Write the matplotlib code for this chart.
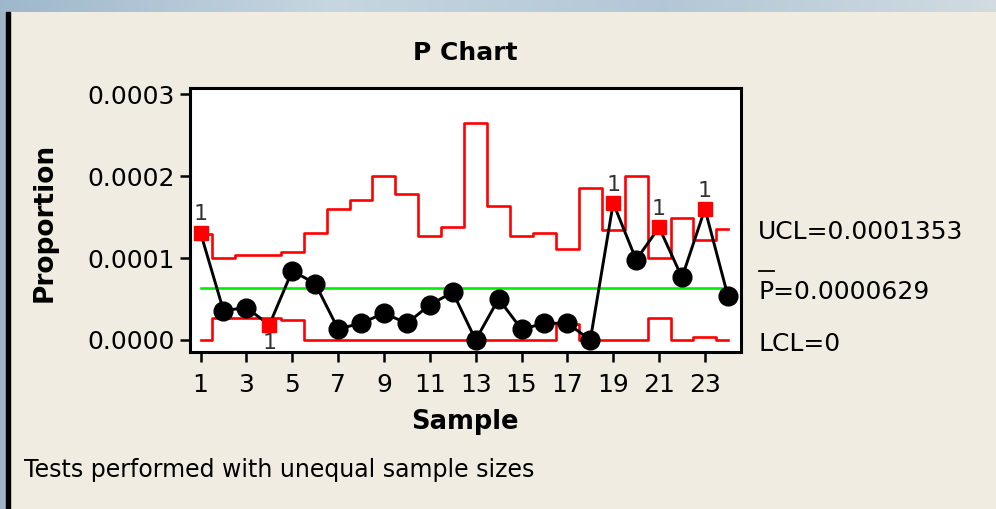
import numpy as np
import matplotlib
matplotlib.use("Agg")
import matplotlib.pyplot as plt
from matplotlib.lines import Line2D
from matplotlib.patches import Rectangle

# ---- data ----
samples = list(range(1, 25))
proportion = [0.0001310, 0.0000359, 0.0000395, 0.0000184, 0.0000845, 0.0000689,
              0.0000135, 0.0000204, 0.0000327, 0.0000204, 0.0000428, 0.0000584,
              0.0000000, 0.0000502, 0.0000131, 0.0000204, 0.0000204, 0.0000000,
              0.0001673, 0.0000979, 0.0001375, 0.0000763, 0.0001600, 0.0000539]
ucl = [0.0001300, 0.0001000, 0.0001040, 0.0001040, 0.0001070, 0.0001306,
       0.0001600, 0.0001714, 0.0002007, 0.0001787, 0.0001273, 0.0001383,
       0.0002644, 0.0001640, 0.0001273, 0.0001306, 0.0001114, 0.0001857,
       0.0001338, 0.0002007, 0.0001000, 0.0001490, 0.0001224, 0.0001353]
lcl = [0.0, 0.0000265, 0.0000265, 0.0000265, 0.0000245, 0.0,
       0.0, 0.0, 0.0, 0.0, 0.0, 0.0,
       0.0, 0.0, 0.0, 0.0, 0.0000192, 0.0,
       0.0, 0.0, 0.0000265, 0.0, 0.0000040, 0.0]
center = 0.0000629
xticks = [1, 3, 5, 7, 9, 11, 13, 15, 17, 19, 21, 23]
yticks = [0.0, 0.0001, 0.0002, 0.0003]
ytick_labels = ["0.0000", "0.0001", "0.0002", "0.0003"]
ucl_label = "UCL=0.0001353"
p_label = "P=0.0000629"
lcl_label = "LCL=0"

W, H = 996, 509
BG = "#F0ECE1"
plt.rcParams['font.family'] = ['DejaVu Sans']
fig = plt.figure(figsize=(W / 100, H / 100), dpi=100, facecolor=BG)

def fx(px):
    return px / W

def fy(py):
    return 1 - py / H

# screenshot frame decorations
bgax = fig.add_axes([0, 0, 1, 1], zorder=-10)
bgax.set_xlim(0, W)
bgax.set_ylim(H, 0)
bgax.axis("off")
cols = np.array([[0.62, 0.72, 0.80], [0.78, 0.84, 0.88], [0.70, 0.78, 0.84], [0.82, 0.86, 0.88]])
idx = np.linspace(0, len(cols) - 1, 200)
img = np.array([np.interp(idx, np.arange(len(cols)), cols[:, k]) for k in range(3)]).T[None, :, :]
bgax.imshow(img, extent=[0, W, 12, 0], aspect="auto")
bgax.add_patch(Rectangle((0, 12), 6, H - 12, color="#9FB4C6"))
bgax.add_patch(Rectangle((6, 12), 3.5, H - 12, color="black"))

ax = fig.add_axes([fx(190), fy(351.7), fx(740.7 - 190), (351.7 - 88.3) / H])
ax.set_facecolor("white")

ax.plot(samples, ucl, drawstyle="steps-mid", color="#FF0000", lw=1.9, zorder=2)
ax.plot(samples, lcl, drawstyle="steps-mid", color="#FF0000", lw=1.9, zorder=2)
ax.plot([samples[0], samples[-1]], [center, center], color="#00EE00", lw=1.9, zorder=2)
ax.plot(samples, proportion, color="black", lw=2.1, zorder=3)

for s, p, u, l in zip(samples, proportion, ucl, lcl):
    if p > u:
        ax.plot(s, p, marker="s", ms=10, color="#FF0000", zorder=4)
        ax.annotate("1", (s, p), xytext=(0, 6), textcoords="offset points",
                    ha="center", va="bottom", fontsize=16, color="#333333")
    elif p < l:
        ax.plot(s, p, marker="s", ms=10, color="#FF0000", zorder=4)
        ax.annotate("1", (s, p), xytext=(0, -6), textcoords="offset points",
                    ha="center", va="top", fontsize=16, color="#333333")
    else:
        ax.plot(s, p, marker="o", ms=13.5, color="black", zorder=4)

ax.set_xlim(0.54, 24.56)
ax.set_ylim(-0.0000143, 0.0003073)
ax.set_xticks(xticks)
ax.set_xticklabels([str(t) for t in xticks], fontsize=18)
ax.set_yticks(yticks)
ax.set_yticklabels(ytick_labels, fontsize=18)
for sp in ax.spines.values():
    sp.set_linewidth(2.2)
ax.tick_params(axis="both", length=7, width=1.8, direction="out", colors="black")
ax.tick_params(axis="x", pad=8)
ax.tick_params(axis="y", pad=4)

fig.text(fx(465), fy(53), "P Chart", ha="center", va="center", fontsize=18, fontweight="bold")
fig.text(fx(45), fy(222), "Proportion", ha="center", va="center", rotation=90,
         fontsize=19, fontweight="bold")
fig.text(fx(465), fy(422), "Sample", ha="center", va="center", fontsize=18.5, fontweight="bold")
fig.text(fx(24), fy(470), "Tests performed with unequal sample sizes", ha="left", va="center",
         fontsize=17)

fig.text(fx(758), fy(232), ucl_label, ha="left", va="center", fontsize=18)
fig.text(fx(758), fy(292), p_label, ha="left", va="center", fontsize=18)
fig.text(fx(758), fy(344), lcl_label, ha="left", va="center", fontsize=18)
fig.add_artist(Line2D([fx(759), fx(774)], [fy(271), fy(271)], color="black", lw=1.3))

fig.savefig("out.png", dpi=100, facecolor=BG)
